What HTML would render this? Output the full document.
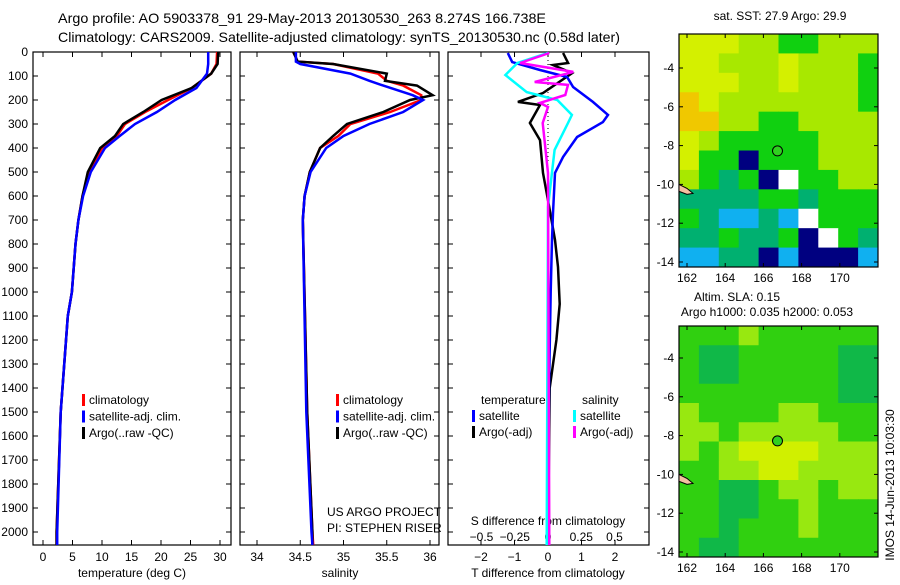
<!DOCTYPE html>
<html><head><meta charset="utf-8"><style>
body{margin:0;background:#fff}
svg text{font-family:"Liberation Sans",sans-serif;fill:#000}
</style></head><body>
<svg id="s" width="900" height="580" xmlns="http://www.w3.org/2000/svg">
<rect width="900" height="580" fill="#fff"/>
<text x="58" y="23" font-size="14" textLength="488" lengthAdjust="spacingAndGlyphs">Argo profile: AO 5903378_91 29-May-2013 20130530_263 8.274S 166.738E</text>
<text x="58" y="42" font-size="14" textLength="562" lengthAdjust="spacingAndGlyphs">Climatology: CARS2009. Satellite-adjusted climatology: synTS_20130530.nc (0.58d later)</text>
<g id="g"></g>
</svg>
<script>
// ---- data ----
const tDepth=[0,50,90,150,200,250,300,350,400,500,600,700,800,1000,1100,1500,2000,2054];
const tClim=[29.5,29.4,28.5,25.2,21.2,17.3,13.9,12.5,10.0,7.8,6.7,6.0,5.5,4.9,4.2,3.0,2.3,2.3];
const tSat=[28.0,28.0,27.8,26.0,22.4,19.3,15.6,13.0,10.5,8.1,6.8,6.0,5.5,4.9,4.2,3.0,2.4,2.4];
const tArgo=[29.7,29.6,28.5,25.2,20.1,17.0,13.6,12.2,9.7,7.6,6.7,6.0,5.5,4.9,4.2,3.0,2.3,2.3];
const sDepth=[0,40,50,90,120,140,180,200,250,300,350,400,500,600,700,1500,2000,2054];
const sClim=[34.42,34.47,34.88,35.4,35.5,35.69,35.9,35.9,35.54,35.08,34.94,34.73,34.61,34.55,34.53,34.58,34.64,34.65];
const sSat=[34.45,34.45,34.5,35.08,35.3,35.46,35.8,35.92,35.69,35.3,35.0,34.8,34.62,34.55,34.53,34.57,34.63,34.64];
const sArgo=[34.42,34.47,34.88,35.5,35.48,35.85,36.03,35.77,35.46,35.04,34.88,34.73,34.61,34.55,34.53,34.58,34.64,34.64];
const dtDepth=[4,42,75,104,146,208,262,292,354,437,504,671,783,1000,1400,2054];
const dtSat=[-1.2,-1.07,-0.24,0.57,0.75,1.34,1.79,1.64,0.87,0.45,0.21,0.15,0.12,0.08,0.03,0.0];
const dArgoDepth=[4,46,54,88,171,208,221,296,367,504,617,783,896,1050,1200,1400,2054];
const dtArgo=[0.45,0.6,0.15,0.72,-0.15,-0.9,-0.24,-0.54,-0.24,-0.15,0,0.21,0.3,0.35,0.25,0.05,0.0];
const dsDepth=[4,46,96,167,200,262,296,408,646,2054];
const dsSat=[0,-0.23,-0.32,-0.16,0.07,0.18,0.15,0.05,0,-0.01];
const dmDepth=[4,46,83,125,137,179,212,229,296,504,2054];
const dsArgo=[0.01,-0.21,0.19,-0.1,0.15,0.13,-0.06,0,-0.04,0,0.01];
const depthTicks=[0,100,200,300,400,500,600,700,800,900,1000,1100,1200,1300,1400,1500,1600,1700,1800,1900,2000];
const tTicks=[0,5,10,15,20,25,30];
const sTicks=[34,34.5,35,35.5,36];
const dTTicks=[-2,-1,0,1,2];
const dSTicks=[-0.5,-0.25,0,0.25,0.5];
const latTicks=[-4,-6,-8,-10,-12,-14];
const lonTicks=[162,164,166,168,170];
const sstGrid=["YYYLLGGLLL","YYLLLYLLLG","YYYLLYLLLG","OYLLLLLLLG","OOLLGGLLLL","YLGGGGGLLL","YGGNGGGLLL","LGTGNWGGLL","TTTTGGTGGG","GTCCTCWGGG","TTGTTGNWGT","CCTTNCNNNC"];
const slaGrid=["GGGLGGGGGG","GDDGGGGGDD","GDDGGGGGDD","GGGGGGGGDD","LGGGGLLGGG","LLGLLLLLGG","LGLYYYYLLL","GGLLYYLLLL","GGDDGLLGLL","GGDDGGLGGG","GGDGGGLGGG","GDDGGGGGGG"];
// ---- drawing ----
const NS="http://www.w3.org/2000/svg",G=document.getElementById('g');
function el(t,a,p){const e=document.createElementNS(NS,t);for(const k in a)e.setAttribute(k,a[k]);(p||G).appendChild(e);return e;}
const Y=d=>52+0.24*d;
function axT(v){return 43+5.9*v}
function axS(v){return 257+86.5*(v-34)}
function axDT(v){return 548+33.5*v}
function axDS(v){return 548+133*v}
function line(xs,ds,fx,col,w,name){
  const pts=xs.map((v,i)=>fx(v).toFixed(1)+','+Y(ds[i]).toFixed(1)).join(' ');
  const p=el('polyline',{points:pts,fill:'none',stroke:col,'stroke-width':w});
  
  
}
function txt(x,y,s,size,anchor,name){const t=el('text',{x:x,y:y,'font-size':size||12,'text-anchor':anchor||'start'});t.textContent=s;
  
  return t;}
function frame(x0,x1,name){
  const r=el('rect',{x:x0,y:52,width:x1-x0,height:493,fill:'none',stroke:'#000','stroke-width':1.2});
  
  
  depthTicks.forEach(d=>{el('line',{x1:x0,x2:x0+5,y1:Y(d),y2:Y(d),stroke:'#000'});el('line',{x1:x1-5,x2:x1,y1:Y(d),y2:Y(d),stroke:'#000'});});
}
function xticks(ticks,f,ylab,name){ticks.forEach(v=>{const x=f(v);el('line',{x1:x,x2:x,y1:52,y2:57,stroke:'#000'});el('line',{x1:x,x2:x,y1:540,y2:545,stroke:'#000'});
  if(ylab)txt(x,ylab,String(v).replace('-','\u2212'),12,'middle',name);});}
// panel 1
frame(33,231,'temperature-panel');
depthTicks.forEach(d=>txt(28,Y(d)+4,String(d),12,'end','depth-tick-label'));
xticks(tTicks,axT,561,'temperature-tick-label');
txt(132,577,'temperature (deg C)',12,'middle','temperature-axis-title');
line(tClim,tDepth,axT,'#f00',2.5,'temp-climatology-line');
line(tArgo,tDepth,axT,'#000',2.5,'temp-argo-line');
line(tSat,tDepth,axT,'#00f',2.5,'temp-satellite-line');
// panel 2
frame(240,439,'salinity-panel');
xticks(sTicks,axS,561,'salinity-tick-label');
txt(340,577,'salinity',12,'middle','salinity-axis-title');
line(sClim,sDepth,axS,'#f00',2.5,'sal-climatology-line');
line(sArgo,sDepth,axS,'#000',2.5,'sal-argo-line');
line(sSat,sDepth,axS,'#00f',2.5,'sal-satellite-line');
// panel 3
frame(448,649,'difference-panel');
xticks(dTTicks,axDT,561,'t-diff-tick-label');
dSTicks.forEach(v=>txt(axDS(v),541,String(v).replace('-','\u2212'),12,'middle','s-diff-tick-label'));
txt(548,525,'S difference from climatology',12,'middle','s-diff-axis-title');
txt(548,577,'T difference from climatology',12,'middle','t-diff-axis-title');
el('line',{x1:548,x2:548,y1:52,y2:Y(460),stroke:'#000','stroke-dasharray':'1,3'});
line(dtArgo,dArgoDepth,axDT,'#000',2.5,'tdiff-argo-line');
line(dtSat,dtDepth,axDT,'#00f',2.5,'tdiff-satellite-line');
line(dsSat,dsDepth,axDS,'#0ff',2.5,'sdiff-satellite-line');
line(dsArgo,dmDepth,axDS,'#f0f',2.5,'sdiff-argo-line');
// legends
function leg(x,y,col,s,name){el('rect',{x:x-2,y:y-6,width:3,height:12,fill:col});txt(x+5,y+4,s,12,'start',name);}
[[84,'#f00','climatology'],[84,'#00f','satellite-adj. clim.'],[84,'#000','Argo(..raw -QC)']].forEach((l,i)=>leg(l[0],400+i*16.5,l[1],l[2],'legend-entry'));
[[338,'#f00','climatology'],[338,'#00f','satellite-adj. clim.'],[338,'#000','Argo(..raw -QC)']].forEach((l,i)=>leg(l[0],400+i*16.5,l[1],l[2],'legend-entry'));
txt(481,404,'temperature',12,'start','legend-title-temperature');
txt(582,404,'salinity',12,'start','legend-title-salinity');
leg(474,416,'#00f','satellite','legend-entry');leg(474,432,'#000','Argo(-adj)','legend-entry');
leg(575,416,'#0ff','satellite','legend-entry');leg(575,432,'#f0f','Argo(-adj)','legend-entry');
txt(327,516,'US ARGO PROJECT',12,'start','project-label');
txt(327,532,'PI: STEPHEN RISER',12,'start','pi-label');
// maps
const C1={Y:'#d4f000',L:'#a8e800',G:'#10d010',T:'#00b070',C:'#10b0f0',N:'#000080',W:'#fff',O:'#f0c800'};
const C2={G:'#30d010',D:'#10b848',L:'#98e810',Y:'#d0f000'};
function map(top,grid,cols,name,lat0){
  const x0=679,x1=878,bot=top+(top<100?233:231),lonX=v=>687+19.1*(v-162);
  const latY=v=>lat0+19.4*(-4-v);
  const rows=grid.length,cw=(x1-x0)/10,rh=(bot-top)/rows;
  grid.forEach((r,i)=>r.split('').forEach((c,j)=>{el('rect',{x:x0+j*cw,y:top+i*rh,width:cw+0.5,height:rh+0.5,fill:cols[c]});}));
  const f=el('rect',{x:x0,y:top,width:x1-x0,height:bot-top,fill:'none',stroke:'#000','stroke-width':1.2});
  
  
  latTicks.forEach(v=>{const y=latY(v);el('line',{x1:x0,x2:x0+4,y1:y,y2:y,stroke:'#000'});el('line',{x1:x1-4,x2:x1,y1:y,y2:y,stroke:'#000'});txt(x0-5,y+4,String(v),12,'end','latitude-tick-label');});
  lonTicks.forEach(v=>{const x=lonX(v);el('line',{x1:x,x2:x,y1:bot-4,y2:bot,stroke:'#000'});el('line',{x1:x,x2:x,y1:top,y2:top+4,stroke:'#000'});txt(x,bot+15,String(v),12,'middle','longitude-tick-label');});
  const m=el('circle',{cx:lonX(166.738),cy:latY(-8.274),r:5,fill:'#30d020',stroke:'#000'});
  
  
  el('path',{d:`M${x0} ${latY(-10)} l8 4 l6 5 l-6 1 l-8 -3z`,fill:'#f4c0a0',stroke:'#000'});
}
map(34,sstGrid,C1,'sst-map',68);
map(326,slaGrid,C2,'sla-map',358);
txt(780,20,'sat. SST: 27.9  Argo: 29.9',12,'middle','sst-map-title');
txt(737,301,'Altim. SLA: 0.15',12,'middle','sla-map-title');
txt(767,316,'Argo h1000: 0.035 h2000: 0.053',12,'middle','sla-map-subtitle');
const r=txt(0,0,'IMOS 14-Jun-2013 10:03:30',12,'middle','imos-timestamp');
r.setAttribute('transform','translate(894,485) rotate(-90)');
</script>
</body></html>
